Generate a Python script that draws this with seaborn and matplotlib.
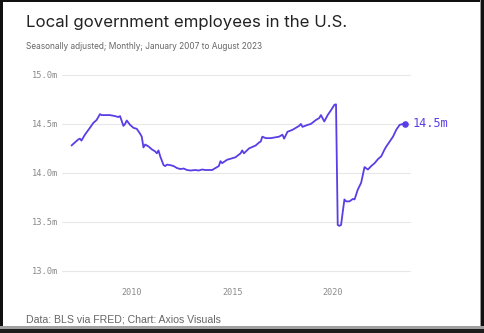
import matplotlib
matplotlib.use("Agg")
import matplotlib.pyplot as plt
from matplotlib.patches import Rectangle
import pandas as pd
import seaborn as sns

# Local government employment, millions (seasonally adjusted)
months = [
    "2007-01", "2007-03", "2007-05", "2007-06", "2007-07", "2007-09", "2007-12",
    "2008-02", "2008-04", "2008-06", "2008-07", "2008-09", "2008-12",
    "2009-03", "2009-05", "2009-06", "2009-08", "2009-09", "2009-10", "2009-12",
    "2010-02", "2010-04", "2010-06", "2010-07", "2010-08", "2010-09", "2010-11",
    "2011-01", "2011-03", "2011-04", "2011-05", "2011-06", "2011-08", "2011-09", "2011-10", "2011-12",
    "2012-02", "2012-04", "2012-06", "2012-08", "2012-10", "2012-12",
    "2013-03", "2013-05", "2013-07", "2013-09", "2013-11",
    "2014-01", "2014-03", "2014-05", "2014-06", "2014-07", "2014-10",
    "2015-01", "2015-03", "2015-06", "2015-07", "2015-08", "2015-11",
    "2016-03", "2016-05", "2016-06", "2016-07", "2016-09", "2016-12",
    "2017-05", "2017-07", "2017-08", "2017-10",
    "2018-01", "2018-03", "2018-05", "2018-06", "2018-07", "2018-10", "2018-12",
    "2019-03", "2019-05", "2019-06", "2019-08", "2019-10", "2019-12",
    "2020-02", "2020-03", "2020-04", "2020-05", "2020-06", "2020-07", "2020-08", "2020-09", "2020-11",
    "2021-01", "2021-02", "2021-04", "2021-06", "2021-08", "2021-10", "2021-12",
    "2022-02", "2022-04", "2022-06", "2022-08", "2022-09", "2022-11",
    "2023-01", "2023-03", "2023-05", "2023-07", "2023-08",
]
employees = [
    14.28, 14.31, 14.34, 14.35, 14.33, 14.39, 14.46,
    14.51, 14.54, 14.60, 14.59, 14.59, 14.59,
    14.58, 14.57, 14.58, 14.48, 14.50, 14.535, 14.49,
    14.46, 14.45, 14.40, 14.37, 14.26, 14.29, 14.27,
    14.24, 14.22, 14.20, 14.23, 14.17, 14.08, 14.07, 14.085, 14.08,
    14.07, 14.05, 14.04, 14.045, 14.03, 14.025,
    14.03, 14.025, 14.035, 14.03, 14.03,
    14.03, 14.05, 14.07, 14.12, 14.10, 14.135,
    14.15, 14.16, 14.20, 14.23, 14.20, 14.25,
    14.28, 14.31, 14.32, 14.37, 14.355, 14.355,
    14.37, 14.39, 14.35, 14.42,
    14.44, 14.46, 14.48, 14.50, 14.47, 14.49, 14.50,
    14.54, 14.56, 14.59, 14.525, 14.59, 14.64,
    14.695, 14.70, 13.47, 13.46, 13.47, 13.60, 13.73, 13.71, 13.71,
    13.735, 13.73, 13.83, 13.90, 14.06, 14.035, 14.07,
    14.10, 14.14, 14.17, 14.24, 14.27, 14.32,
    14.37, 14.44, 14.49, 14.50, 14.50,
]
y_ticks = [13.0, 13.5, 14.0, 14.5, 15.0]
x_tick_years = ["2010", "2015", "2020"]

df = pd.DataFrame({"date": pd.to_datetime(months), "employees": employees})

sns.set_theme(style="white")
plt.rcParams["font.family"] = ["DejaVu Sans"]

PURPLE = "#5a3de6"
GRID = "#e8e8e8"
TICK_TXT = "#8a8a8a"

fig = plt.figure(figsize=(4.84, 3.33), dpi=100)
fig.patch.set_facecolor("white")
ax = fig.add_axes([62 / 484, 1 - 271 / 333, (410 - 62) / 484, (271 - 70) / 333])

sns.lineplot(data=df, x="date", y="employees", ax=ax, color=PURPLE, linewidth=1.3)

last = df.iloc[-1]
ax.scatter([last["date"]], [last["employees"]], s=14, color=PURPLE, zorder=5)
ax.annotate(f"{last['employees']:.1f}m", (last["date"], last["employees"]),
            xytext=(6, 0), textcoords="offset points", va="center", ha="left",
            color=PURPLE, fontsize=8.6, family="DejaVu Sans Mono")

ax.set_ylim(13.0, 15.05)
ax.set_yticks(y_ticks)
ax.set_yticklabels([f"{v:.1f}m" for v in y_ticks])
ax.set_xlim(pd.Timestamp("2006-07-12"), pd.Timestamp("2023-11-06"))
ax.set_xticks(pd.to_datetime([f"{y}-01-01" for y in x_tick_years]))
ax.set_xticklabels(x_tick_years)

ax.yaxis.grid(True, color=GRID, linewidth=0.8)
for gl in ax.get_ygridlines():
    gl.set_clip_on(False)
ax.xaxis.grid(False)
for s in ax.spines.values():
    s.set_visible(False)
ax.tick_params(axis="y", length=0, pad=3, labelsize=6.3, labelcolor=TICK_TXT)
ax.tick_params(axis="x", length=11.5, width=0.8, color=GRID, direction="out",
               pad=0.5, labelsize=6.1, labelcolor=TICK_TXT)
for lbl in ax.get_xticklabels() + ax.get_yticklabels():
    lbl.set_family("DejaVu Sans Mono")
ax.set_xlabel("")
ax.set_ylabel("")
ax.set_facecolor("white")

fig.text(26 / 484, 1 - 27.5 / 333, "Local government employees in the U.S.",
         fontsize=12.1, family="Inter", color="#222222", va="baseline")
fig.text(26 / 484, 1 - 48.7 / 333,
         "Seasonally adjusted; Monthly; January 2007 to August 2023",
         fontsize=6.0, family="Inter", color="#666666", va="baseline")
fig.text(26 / 484, 1 - 323 / 333, "Data: BLS via FRED; Chart: Axios Visuals",
         fontsize=7.6, family="Liberation Sans", color="#666666", va="baseline")

# Frame around the graphic
def frame(x0, y0, x1, y1, color):
    fig.patches.append(Rectangle((x0 / 484, 1 - y1 / 333), (x1 - x0) / 484,
                                 (y1 - y0) / 333, transform=fig.transFigure,
                                 color=color, zorder=10, linewidth=0))

frame(0, 0, 484, 2, "#111111")
frame(0, 0, 2.5, 333, "#111111")
frame(480, 0, 481, 333, "#9a9a9a")
frame(481, 0, 484, 333, "#111111")
frame(0, 326, 484, 328.5, "#a0a0a0")
frame(0, 328.5, 484, 333, "#1c1c1c")

fig.savefig("out.png", dpi=100, facecolor="white")
